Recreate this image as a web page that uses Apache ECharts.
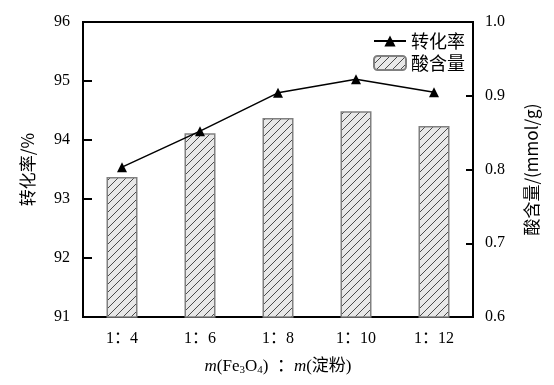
<!DOCTYPE html>
<html><head><meta charset="utf-8">
<script src="https://cdn.jsdelivr.net/npm/echarts@6/dist/echarts.min.js"></script>
<style>html,body{margin:0;padding:0;background:#fff}#c{width:554px;height:385px}</style>
</head><body><div id="c"></div>
<script>
const categories = ['1：4', '1：6', '1：8', '1：10', '1：12'];
const conversion = [93.54, 94.15, 94.80, 95.03, 94.81];
const acidContent = [0.79, 0.849, 0.870, 0.879, 0.859];
const leftTicks = [91, 92, 93, 94, 95, 96];
const rightTicks = [0.6, 0.7, 0.8, 0.9, 1.0];

const FONT = "'Liberation Serif','Times New Roman','Noto Sans CJK SC',serif";

function hatch() {
  const s = 8;
  const c = document.createElement('canvas');
  c.width = s; c.height = s;
  const g = c.getContext('2d');
  g.fillStyle = '#e8e8e8';
  g.fillRect(0, 0, s, s);
  g.strokeStyle = '#4a4a4a';
  g.lineWidth = 1;
  g.beginPath();
  g.moveTo(0, s); g.lineTo(s, 0);
  g.moveTo(-2, 2); g.lineTo(2, -2);
  g.moveTo(s - 2, s + 2); g.lineTo(s + 2, s - 2);
  g.stroke();
  return c;
}

const chart = echarts.init(document.getElementById('c'), null, {renderer: 'canvas'});
chart.setOption({
  animation: false,
  backgroundColor: '#fff',
  textStyle: {fontFamily: FONT},
  grid: {left: 83, right: 81, top: 22, bottom: 68, show: true, borderColor: '#000', borderWidth: 2},
  legend: {
    orient: 'vertical', right: 84, top: 27, itemGap: 4,
    itemWidth: 32, itemHeight: 14, align: 'left',
    textStyle: {fontSize: 18, color: '#000', fontFamily: "'Noto Sans CJK SC',serif"},
    data: [{name: '转化率'}, {name: '酸含量'}]
  },
  xAxis: {
    type: 'category', data: categories, boundaryGap: true,
    axisLine: {lineStyle: {color: '#000', width: 2}},
    axisTick: {show: false},
    axisLabel: {fontSize: 16, color: '#000', margin: 14},
    name: '{i|m}{n|(Fe}{s|3}{n|O}{s|4}{n|)  ：}{i|m}{n|(淀粉)}',
    nameLocation: 'middle', nameGap: 40,
    nameTextStyle: {
      rich: {
        i: {fontSize: 17, fontStyle: 'italic', color: '#000', fontFamily: FONT},
        n: {fontSize: 17, color: '#000', fontFamily: FONT},
        s: {fontSize: 11, color: '#000', fontFamily: FONT, verticalAlign: 'bottom', padding: [8, 0, 0, 0]}
      }
    }
  },
  yAxis: [
    {
      type: 'value', min: 91, max: 96, interval: 1, position: 'left',
      axisLine: {show: true, lineStyle: {color: '#000', width: 2}},
      axisTick: {show: true, inside: true, length: 9, lineStyle: {color: '#000', width: 2}},
      axisLabel: {fontSize: 16, color: '#000', margin: 13, formatter: v => leftTicks.includes(v) ? String(v) : ''},
      splitLine: {show: false},
      name: '转化率/%', nameLocation: 'middle', nameGap: 47, nameRotate: 90,
      nameTextStyle: {fontSize: 17, color: '#000', fontFamily: "'Noto Sans CJK SC',serif"}
    },
    {
      type: 'value', min: 0.6, max: 1.0, interval: 0.1, position: 'right',
      axisLine: {show: true, lineStyle: {color: '#000', width: 2}},
      axisTick: {show: true, inside: true, length: 7, lineStyle: {color: '#000', width: 2}},
      axisLabel: {fontSize: 16, color: '#000', margin: 12, formatter: v => v.toFixed(1)},
      splitLine: {show: false},
      name: '酸含量/(mmol/g)', nameLocation: 'middle', nameGap: 50, nameRotate: 90,
      nameTextStyle: {fontSize: 17, color: '#000', fontFamily: "'Noto Sans CJK SC',serif"}
    }
  ],
  series: [
    {
      name: '转化率', type: 'line', yAxisIndex: 0, data: conversion, z: 5,
      symbol: 'triangle', symbolSize: 10,
      lineStyle: {color: '#000', width: 1.5},
      itemStyle: {color: '#000'}
    },
    {
      name: '酸含量', type: 'bar', yAxisIndex: 1, data: acidContent, barWidth: 31, z: 2,
      itemStyle: {color: {image: hatch(), repeat: 'repeat'}, borderColor: '#808080', borderWidth: 1.5}
    }
  ]
});
</script></body></html>
